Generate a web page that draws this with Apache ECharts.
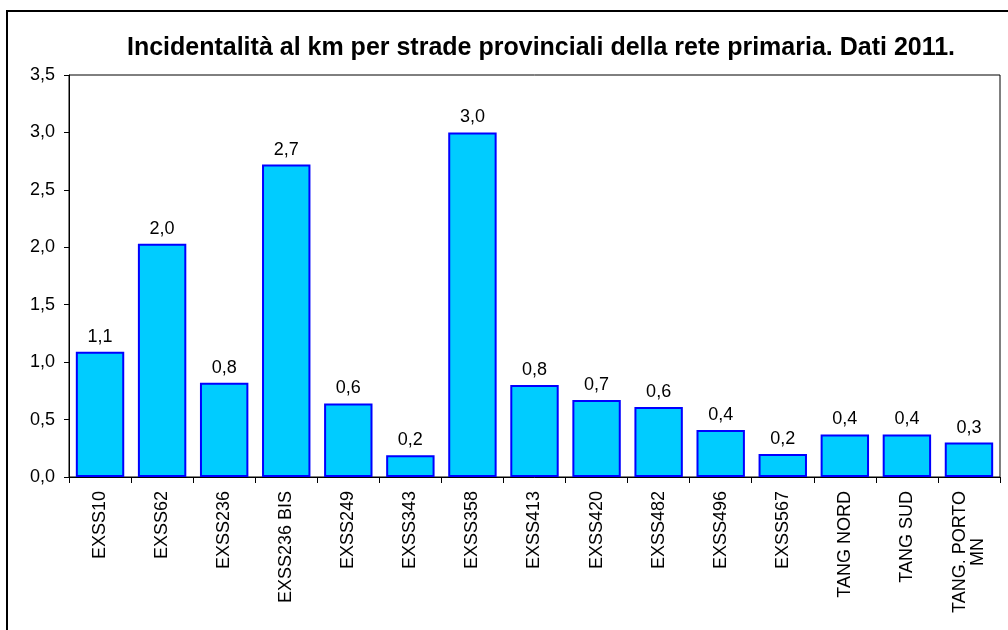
<!DOCTYPE html>
<html>
<head>
<meta charset="utf-8">
<script src="https://cdn.jsdelivr.net/npm/echarts@6/dist/echarts.min.js"></script>
<style>
  html, body { margin: 0; padding: 0; background: #fff; }
  #chart { width: 1008px; height: 630px; }
</style>
</head>
<body>
<div id="chart"></div>
<script>
// Data
const titleText = 'Incidentalità al km per strade provinciali della rete primaria. Dati 2011.';
const categories = [
  'EXSS10', 'EXSS62', 'EXSS236', 'EXSS236 BIS', 'EXSS249', 'EXSS343', 'EXSS358',
  'EXSS413', 'EXSS420', 'EXSS482', 'EXSS496', 'EXSS567', 'TANG NORD', 'TANG SUD',
  'TANG. PORTO\nMN'
];
const values = [1.09, 2.03, 0.82, 2.72, 0.64, 0.19, 3.0, 0.80, 0.67, 0.61, 0.41, 0.20, 0.37, 0.37, 0.30];

const fmt = v => v.toFixed(1).replace('.', ',');
const font = 'Liberation Sans, Arial, sans-serif';
const labelSize = 18;

const chart = echarts.init(document.getElementById('chart'));

// two-line labels: pad the short line so the lines sit centred on each other
const ctx = document.createElement('canvas').getContext('2d');
ctx.font = labelSize + 'px ' + font;
const labelFormatter = v => {
  if (v.indexOf('\n') < 0) return v;
  const lines = v.split('\n');
  const widths = lines.map(s => ctx.measureText(s).width);
  const maxW = Math.max(...widths);
  return lines.map((s, i) => {
    const pad = Math.round((maxW - widths[i]) / 2);
    return pad > 0 ? '{p' + pad + '|' + s + '}' : s;
  }).join('\n');
};
const richPad = {};
categories.forEach(v => {
  const m = labelFormatter(v).match(/\{p(\d+)\|/g) || [];
  m.forEach(t => {
    const n = +t.slice(2, -1);
    richPad['p' + n] = { padding: [0, n, 0, 0], fontSize: labelSize, color: '#000', fontFamily: font };
  });
});

const option = {
  backgroundColor: '#fff',
  animation: false,
  textStyle: { fontFamily: font },
  graphic: [
    {
      type: 'rect',
      shape: { x: 7, y: 11, width: 1010, height: 640 },
      style: { fill: 'none', stroke: '#000', lineWidth: 2 }
    }
  ],
  title: {
    text: titleText,
    left: 536,
    top: 31,
    textAlign: 'center',
    textStyle: {
      fontFamily: font,
      fontSize: 25,
      fontWeight: 'bold',
      color: '#000'
    }
  },
  grid: {
    left: 69,
    right: 8,
    top: 75,
    bottom: 153,
    show: true,
    borderColor: '#000',
    borderWidth: 1
  },
  xAxis: {
    type: 'category',
    data: categories,
    axisLine: { lineStyle: { color: '#000', width: 1 } },
    axisTick: { show: true, length: 6, lineStyle: { color: '#000' } },
    axisLabel: {
      rotate: 90,
      interval: 0,
      margin: 14,
      color: '#000',
      fontSize: labelSize,
      formatter: labelFormatter,
      rich: richPad
    }
  },
  yAxis: {
    type: 'value',
    min: 0,
    max: 3.5,
    interval: 0.5,
    splitLine: { show: false },
    axisLine: { show: true, lineStyle: { color: '#000', width: 1 } },
    axisTick: { show: true, length: 5, lineStyle: { color: '#000' } },
    axisLabel: {
      margin: 14,
      color: '#000',
      fontSize: 18,
      formatter: v => fmt(v)
    }
  },
  series: [
    {
      type: 'bar',
      data: values,
      barCategoryGap: '22%',
      itemStyle: {
        color: '#00CCFF',
        borderColor: '#0000FF',
        borderWidth: 2
      },
      label: {
        show: true,
        position: 'top',
        distance: 6,
        color: '#000',
        fontSize: 18,
        formatter: p => fmt(p.value)
      }
    }
  ]
};

chart.setOption(option);
</script>
</body>
</html>
